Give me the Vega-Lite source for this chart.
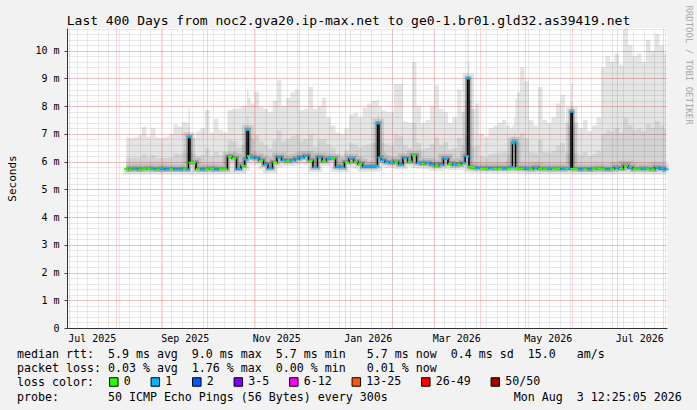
{
  "$schema": "https://vega.github.io/schema/vega-lite/v6.json",
  "width": 600,
  "height": 300,
  "autosize": "none",
  "padding": {"left": 67, "top": 28, "right": 30, "bottom": 82},
  "background": "#f2f2f2",
  "view": {"fill": "white", "stroke": null},
  "config": {
    "axis": {"labelFont": "DejaVu Sans Mono", "titleFont": "DejaVu Sans Mono", "labelColor": "black", "titleColor": "black", "titleFontWeight": "normal"}
  },
  "data": {"values": [
    {"t":"2025-08-08T00:00","m":5.73,"c":6.15,"h":6.9,"l":"0"},
    {"t":"2025-08-11T00:00","m":5.72,"c":6.12,"h":6.85,"l":"0"},
    {"t":"2025-08-14T00:00","m":5.74,"c":6.14,"h":6.88,"l":"1"},
    {"t":"2025-08-17T00:00","m":5.72,"c":6.15,"h":6.95,"l":"0"},
    {"t":"2025-08-20T00:00","m":5.73,"c":6.27,"h":7.26,"l":"0"},
    {"t":"2025-08-23T00:00","m":5.74,"c":6.15,"h":6.9,"l":"0"},
    {"t":"2025-08-26T00:00","m":5.73,"c":6.24,"h":7.2,"l":"1"},
    {"t":"2025-08-29T00:00","m":5.72,"c":6.13,"h":6.88,"l":"0"},
    {"t":"2025-09-01T00:00","m":5.74,"c":6.13,"h":6.85,"l":"1"},
    {"t":"2025-09-04T00:00","m":5.72,"c":6.13,"h":6.9,"l":"1"},
    {"t":"2025-09-07T00:00","m":5.73,"c":6.17,"h":7.0,"l":"0"},
    {"t":"2025-09-10T00:00","m":5.72,"c":6.29,"h":7.35,"l":"1"},
    {"t":"2025-09-13T00:00","m":5.72,"c":6.27,"h":7.28,"l":"1"},
    {"t":"2025-09-16T00:00","m":5.73,"c":6.33,"h":7.44,"l":"0"},
    {"t":"2025-09-18T00:00","m":5.72,"c":6.31,"h":7.4,"l":"1"},
    {"t":"2025-09-19T00:00","m":6.88,"c":7.25,"h":7.94,"l":"1"},
    {"t":"2025-09-20T00:00","m":5.96,"c":6.32,"h":7.0,"l":"0"},
    {"t":"2025-09-22T00:00","m":5.96,"c":6.27,"h":6.85,"l":"0"},
    {"t":"2025-09-25T00:00","m":5.73,"c":6.21,"h":7.1,"l":"0"},
    {"t":"2025-09-28T00:00","m":5.72,"c":6.24,"h":7.2,"l":"1"},
    {"t":"2025-10-01T00:00","m":5.73,"c":6.48,"h":7.86,"l":"0"},
    {"t":"2025-10-04T00:00","m":5.74,"c":6.2,"h":7.05,"l":"0"},
    {"t":"2025-10-07T00:00","m":5.72,"c":6.36,"h":7.55,"l":"1"},
    {"t":"2025-10-10T00:00","m":5.73,"c":6.23,"h":7.15,"l":"0"},
    {"t":"2025-10-13T00:00","m":5.73,"c":6.19,"h":7.05,"l":"0"},
    {"t":"2025-10-16T00:00","m":6.18,"c":6.77,"h":7.86,"l":"0"},
    {"t":"2025-10-19T00:00","m":6.12,"c":6.74,"h":7.9,"l":"0"},
    {"t":"2025-10-22T00:00","m":5.74,"c":6.51,"h":7.93,"l":"1"},
    {"t":"2025-10-25T00:00","m":5.85,"c":6.6,"h":8.0,"l":"0"},
    {"t":"2025-10-27T00:00","m":6.08,"c":6.75,"h":8.0,"l":"1"},
    {"t":"2025-10-28T00:00","m":7.14,"c":7.64,"h":8.58,"l":"1"},
    {"t":"2025-10-29T00:00","m":6.2,"c":6.94,"h":8.3,"l":"0"},
    {"t":"2025-10-31T00:00","m":6.15,"c":6.83,"h":8.1,"l":"1"},
    {"t":"2025-11-03T00:00","m":6.12,"c":6.96,"h":8.52,"l":"1"},
    {"t":"2025-11-06T00:00","m":6.05,"c":6.73,"h":7.98,"l":"0"},
    {"t":"2025-11-09T00:00","m":5.9,"c":6.6,"h":7.9,"l":"1"},
    {"t":"2025-11-12T00:00","m":5.76,"c":6.47,"h":7.8,"l":"1"},
    {"t":"2025-11-15T00:00","m":5.98,"c":6.76,"h":8.2,"l":"0"},
    {"t":"2025-11-18T00:00","m":6.15,"c":7.13,"h":8.94,"l":"1"},
    {"t":"2025-11-21T00:00","m":6.05,"c":6.73,"h":8.0,"l":"1"},
    {"t":"2025-11-24T00:00","m":6.02,"c":6.82,"h":8.3,"l":"0"},
    {"t":"2025-11-27T00:00","m":6.05,"c":6.91,"h":8.5,"l":"1"},
    {"t":"2025-11-30T00:00","m":6.1,"c":6.98,"h":8.6,"l":"1"},
    {"t":"2025-12-03T00:00","m":6.15,"c":6.75,"h":7.85,"l":"1"},
    {"t":"2025-12-06T00:00","m":6.2,"c":6.8,"h":7.9,"l":"1"},
    {"t":"2025-12-09T00:00","m":6.05,"c":6.98,"h":8.7,"l":"0"},
    {"t":"2025-12-12T00:00","m":5.8,"c":6.54,"h":7.9,"l":"1"},
    {"t":"2025-12-15T00:00","m":6.15,"c":6.8,"h":8.0,"l":"1"},
    {"t":"2025-12-18T00:00","m":6.02,"c":6.82,"h":8.3,"l":"0"},
    {"t":"2025-12-21T00:00","m":6.1,"c":6.63,"h":7.6,"l":"1"},
    {"t":"2025-12-24T00:00","m":6.1,"c":6.52,"h":7.3,"l":"0"},
    {"t":"2025-12-27T00:00","m":5.82,"c":6.25,"h":7.05,"l":"1"},
    {"t":"2025-12-30T00:00","m":5.8,"c":6.22,"h":7.0,"l":"1"},
    {"t":"2026-01-02T00:00","m":5.98,"c":6.41,"h":7.2,"l":"0"},
    {"t":"2026-01-05T00:00","m":6.1,"c":6.66,"h":7.7,"l":"1"},
    {"t":"2026-01-08T00:00","m":6.0,"c":6.61,"h":7.75,"l":"0"},
    {"t":"2026-01-11T00:00","m":5.92,"c":6.51,"h":7.6,"l":"0"},
    {"t":"2026-01-14T00:00","m":5.82,"c":6.57,"h":7.95,"l":"1"},
    {"t":"2026-01-17T00:00","m":5.82,"c":6.62,"h":8.1,"l":"1"},
    {"t":"2026-01-20T00:00","m":5.82,"c":6.65,"h":8.2,"l":"1"},
    {"t":"2026-01-22T00:00","m":5.85,"c":6.67,"h":8.2,"l":"1"},
    {"t":"2026-01-23T00:00","m":7.38,"c":7.68,"h":8.25,"l":"1"},
    {"t":"2026-01-24T00:00","m":6.15,"c":6.8,"h":8.0,"l":"1"},
    {"t":"2026-01-26T00:00","m":6.05,"c":6.68,"h":7.85,"l":"1"},
    {"t":"2026-01-29T00:00","m":5.98,"c":6.62,"h":7.8,"l":"1"},
    {"t":"2026-02-01T00:00","m":5.95,"c":6.6,"h":7.8,"l":"1"},
    {"t":"2026-02-04T00:00","m":6.0,"c":6.98,"h":8.8,"l":"0"},
    {"t":"2026-02-07T00:00","m":5.9,"c":6.92,"h":8.8,"l":"1"},
    {"t":"2026-02-10T00:00","m":6.12,"c":6.59,"h":7.45,"l":"1"},
    {"t":"2026-02-13T00:00","m":6.0,"c":6.49,"h":7.4,"l":"0"},
    {"t":"2026-02-16T00:00","m":6.22,"c":7.4,"h":9.6,"l":"0"},
    {"t":"2026-02-19T00:00","m":5.95,"c":6.67,"h":8.0,"l":"1"},
    {"t":"2026-02-22T00:00","m":5.92,"c":6.44,"h":7.4,"l":"0"},
    {"t":"2026-02-25T00:00","m":5.95,"c":6.49,"h":7.5,"l":"1"},
    {"t":"2026-02-28T00:00","m":5.9,"c":6.64,"h":8.0,"l":"1"},
    {"t":"2026-03-03T00:00","m":5.85,"c":6.87,"h":8.75,"l":"0"},
    {"t":"2026-03-06T00:00","m":5.9,"c":6.6,"h":7.9,"l":"1"},
    {"t":"2026-03-09T00:00","m":6.1,"c":6.7,"h":7.8,"l":"1"},
    {"t":"2026-03-12T00:00","m":5.92,"c":6.44,"h":7.4,"l":"0"},
    {"t":"2026-03-15T00:00","m":5.88,"c":6.48,"h":7.6,"l":"1"},
    {"t":"2026-03-18T00:00","m":5.9,"c":6.85,"h":8.6,"l":"0"},
    {"t":"2026-03-21T00:00","m":5.95,"c":6.6,"h":7.8,"l":"1"},
    {"t":"2026-03-23T00:00","m":6.2,"c":6.9,"h":8.2,"l":"1"},
    {"t":"2026-03-24T00:00","m":9.0,"c":9.63,"h":10.8,"l":"1"},
    {"t":"2026-03-25T00:00","m":5.82,"c":6.65,"h":8.2,"l":"0"},
    {"t":"2026-03-27T00:00","m":5.78,"c":6.52,"h":7.9,"l":"0"},
    {"t":"2026-03-30T00:00","m":5.76,"c":6.58,"h":8.1,"l":"1"},
    {"t":"2026-04-02T00:00","m":5.76,"c":6.19,"h":7.0,"l":"0"},
    {"t":"2026-04-05T00:00","m":5.75,"c":6.15,"h":6.9,"l":"0"},
    {"t":"2026-04-08T00:00","m":5.76,"c":6.26,"h":7.2,"l":"1"},
    {"t":"2026-04-11T00:00","m":5.75,"c":6.29,"h":7.3,"l":"0"},
    {"t":"2026-04-14T00:00","m":5.76,"c":6.33,"h":7.4,"l":"0"},
    {"t":"2026-04-17T00:00","m":5.75,"c":6.36,"h":7.5,"l":"1"},
    {"t":"2026-04-20T00:00","m":5.76,"c":6.3,"h":7.3,"l":"0"},
    {"t":"2026-04-22T00:00","m":5.8,"c":6.29,"h":7.2,"l":"1"},
    {"t":"2026-04-23T00:00","m":6.66,"c":6.88,"h":7.3,"l":"1"},
    {"t":"2026-04-24T00:00","m":6.72,"c":7.03,"h":7.6,"l":"1"},
    {"t":"2026-04-25T00:00","m":5.76,"c":6.65,"h":8.3,"l":"0"},
    {"t":"2026-04-26T00:00","m":5.76,"c":6.72,"h":8.5,"l":"0"},
    {"t":"2026-04-29T00:00","m":5.75,"c":7.03,"h":9.4,"l":"0"},
    {"t":"2026-05-02T00:00","m":5.74,"c":6.85,"h":8.9,"l":"1"},
    {"t":"2026-05-05T00:00","m":5.73,"c":6.35,"h":7.5,"l":"0"},
    {"t":"2026-05-08T00:00","m":5.78,"c":6.31,"h":7.3,"l":"1"},
    {"t":"2026-05-11T00:00","m":5.74,"c":6.78,"h":8.7,"l":"0"},
    {"t":"2026-05-14T00:00","m":5.73,"c":6.35,"h":7.5,"l":"0"},
    {"t":"2026-05-17T00:00","m":5.74,"c":6.32,"h":7.4,"l":"1"},
    {"t":"2026-05-20T00:00","m":5.73,"c":6.38,"h":7.6,"l":"0"},
    {"t":"2026-05-23T00:00","m":5.74,"c":6.57,"h":8.1,"l":"0"},
    {"t":"2026-05-26T00:00","m":5.73,"c":6.66,"h":8.4,"l":"1"},
    {"t":"2026-05-29T00:00","m":5.74,"c":6.32,"h":7.4,"l":"0"},
    {"t":"2026-05-31T00:00","m":5.74,"c":6.29,"h":7.3,"l":"1"},
    {"t":"2026-06-01T00:00","m":7.8,"c":8.15,"h":8.8,"l":"1"},
    {"t":"2026-06-02T00:00","m":5.74,"c":6.29,"h":7.3,"l":"0"},
    {"t":"2026-06-04T00:00","m":5.73,"c":6.31,"h":7.4,"l":"0"},
    {"t":"2026-06-07T00:00","m":5.72,"c":6.24,"h":7.2,"l":"1"},
    {"t":"2026-06-10T00:00","m":5.73,"c":6.35,"h":7.5,"l":"0"},
    {"t":"2026-06-13T00:00","m":5.72,"c":6.2,"h":7.1,"l":"1"},
    {"t":"2026-06-16T00:00","m":5.73,"c":6.28,"h":7.3,"l":"0"},
    {"t":"2026-06-19T00:00","m":5.74,"c":6.39,"h":7.6,"l":"0"},
    {"t":"2026-06-22T00:00","m":5.73,"c":7.01,"h":9.4,"l":"0"},
    {"t":"2026-06-25T00:00","m":5.72,"c":7.15,"h":9.8,"l":"1"},
    {"t":"2026-06-28T00:00","m":5.73,"c":7.08,"h":9.6,"l":"0"},
    {"t":"2026-07-01T00:00","m":5.78,"c":7.22,"h":9.9,"l":"1"},
    {"t":"2026-07-04T00:00","m":5.74,"c":7.06,"h":9.5,"l":"0"},
    {"t":"2026-07-07T00:00","m":5.85,"c":7.58,"h":10.8,"l":"0"},
    {"t":"2026-07-10T00:00","m":5.78,"c":7.33,"h":10.2,"l":"1"},
    {"t":"2026-07-13T00:00","m":5.73,"c":7.15,"h":9.8,"l":"0"},
    {"t":"2026-07-16T00:00","m":5.73,"c":7.19,"h":9.9,"l":"0"},
    {"t":"2026-07-19T00:00","m":5.74,"c":7.09,"h":9.6,"l":"1"},
    {"t":"2026-07-22T00:00","m":5.73,"c":7.36,"h":10.4,"l":"0"},
    {"t":"2026-07-25T00:00","m":5.72,"c":7.22,"h":10.0,"l":"0"},
    {"t":"2026-07-28T00:00","m":5.78,"c":7.47,"h":10.6,"l":"1"},
    {"t":"2026-07-31T00:00","m":5.74,"c":7.3,"h":10.2,"l":"1"},
    {"t":"2026-08-03T00:00","m":5.72,"c":7.18,"h":9.9,"l":"1"}
  ]},
  "encoding": {
    "x": {"field": "t", "type": "temporal", "axis": null,
          "scale": {"domain": [{"year": 2025, "month": 6, "date": 29, "hours": 12, "minutes": 25, "seconds": 5}, {"year": 2026, "month": 8, "date": 3, "hours": 12, "minutes": 25, "seconds": 5}]}},
    "y": {"field": "m", "type": "quantitative", "axis": null, "scale": {"domain": [0, 10.82], "nice": false}}
  },
  "layer": [
    {
      "mark": {"type": "area", "interpolate": "step", "color": "#000000", "opacity": 0.1},
      "encoding": {
        "x": {"field": "t", "type": "temporal",
              "scale": {"domain": [{"year": 2025, "month": 6, "date": 29, "hours": 12, "minutes": 25, "seconds": 5}, {"year": 2026, "month": 8, "date": 3, "hours": 12, "minutes": 25, "seconds": 5}]},
              "axis": {"orient": "top", "grid": true, "gridColor": "#d0d0d0", "gridDash": [1, 1], "tickCount": {"interval": "week", "step": 1},
                       "labels": false, "ticks": false, "domain": false,
                       "title": "Last 400 Days from noc2.gva20.ip-max.net to ge0-1.br01.gld32.as39419.net",
                       "titleFontSize": 13, "titleX": 281, "titleY": -4, "titleAlign": "center", "titleBaseline": "alphabetic", "titleAngle": 0, "titleLimit": 2000}},
        "y": {"field": "m", "type": "quantitative", "scale": {"domain": [0, 10.82], "nice": false},
              "axis": {"orient": "left", "grid": true, "gridColor": "#d0d0d0", "gridDash": [1, 1],
                       "values": [0.2,0.4,0.6,0.8,1,1.2,1.4,1.6,1.8,2,2.2,2.4,2.6,2.8,3,3.2,3.4,3.6,3.8,4,4.2,4.4,4.6,4.8,5,5.2,5.4,5.6,5.8,6,6.2,6.4,6.6,6.8,7,7.2,7.4,7.6,7.8,8,8.2,8.4,8.6,8.8,9,9.2,9.4,9.6,9.8,10,10.2,10.4,10.6,10.8],
                       "labels": false, "ticks": false, "domain": false, "title": null}},
        "y2": {"field": "h"}
      }
    },
    {
      "mark": {"type": "area", "interpolate": "step", "color": "#000000", "opacity": 0.07},
      "encoding": {
        "x": {"field": "t", "type": "temporal",
              "scale": {"domain": [{"year": 2025, "month": 6, "date": 29, "hours": 12, "minutes": 25, "seconds": 5}, {"year": 2026, "month": 8, "date": 3, "hours": 12, "minutes": 25, "seconds": 5}]},
              "axis": {"orient": "bottom", "grid": true, "gridColor": "#ff0000", "gridOpacity": 0.35, "gridDash": [1, 1],
                       "values": [{"year":2025,"month":7,"date":1},{"year":2025,"month":8,"date":1},{"year":2025,"month":9,"date":1},{"year":2025,"month":10,"date":1},{"year":2025,"month":11,"date":1},{"year":2025,"month":12,"date":1},{"year":2026,"month":1,"date":1},{"year":2026,"month":2,"date":1},{"year":2026,"month":3,"date":1},{"year":2026,"month":4,"date":1},{"year":2026,"month":5,"date":1},{"year":2026,"month":6,"date":1},{"year":2026,"month":7,"date":1},{"year":2026,"month":8,"date":1}],
                       "labels": false, "ticks": false, "domain": false, "title": null}},
        "y": {"field": "m", "type": "quantitative", "scale": {"domain": [0, 10.82], "nice": false},
              "axis": {"orient": "left", "grid": true, "gridColor": "#ff0000", "gridOpacity": 0.35, "gridDash": [1, 1],
                       "values": [0,1,2,3,4,5,6,7,8,9,10],
                       "labelExpr": "datum.value == 0 ? '0' : datum.value + ' m'",
                       "labelFontSize": 10, "labelPadding": 5, "ticks": true, "tickSize": 3, "tickColor": "#444444",
                       "domain": true, "domainColor": "#333333",
                       "title": "Seconds", "titleFontSize": 11, "titleX": -55, "titleAngle": -90, "titleBaseline": "middle", "titleAlign": "center"}},
        "y2": {"field": "c"}
      }
    },
    {
      "mark": {"type": "line", "interpolate": "step", "color": "#000000", "opacity": 0.1, "strokeWidth": 10, "strokeJoin": "miter", "strokeCap": "butt"},
      "encoding": {
        "x": {"field": "t", "type": "temporal",
              "scale": {"domain": [{"year": 2025, "month": 6, "date": 29, "hours": 12, "minutes": 25, "seconds": 5}, {"year": 2026, "month": 8, "date": 3, "hours": 12, "minutes": 25, "seconds": 5}]},
              "axis": {"orient": "bottom", "grid": false, "ticks": false, "domain": true, "domainColor": "#333333",
                       "values": [{"year":2025,"month":7,"date":16},{"year":2025,"month":9,"date":16},{"year":2025,"month":11,"date":16},{"year":2026,"month":1,"date":16},{"year":2026,"month":3,"date":16},{"year":2026,"month":5,"date":16},{"year":2026,"month":7,"date":16}],
                       "format": "%b %Y", "labelFontSize": 10, "labelPadding": 5, "labelBaseline": "top", "labelFlush": false, "labelOverlap": false,
                       "title": [
                         "median rtt:\u00a0\u00a05.9 ms avg\u00a0\u00a09.0 ms max\u00a0\u00a05.7 ms min\u00a0\u00a0\u00a05.7 ms now\u00a0\u00a00.4 ms sd\u00a0\u00a015.0\u00a0\u00a0\u00a0am/s",
                         "packet loss: 0.03 % avg\u00a0\u00a01.76 % max\u00a0\u00a00.00 % min\u00a0\u00a0\u00a00.01 % now",
                         "loss color:",
                         "probe:\u00a0\u00a0\u00a0\u00a0\u00a0\u00a0\u00a050 ICMP Echo Pings (56 Bytes) every 300s\u00a0\u00a0\u00a0\u00a0\u00a0\u00a0\u00a0\u00a0\u00a0\u00a0\u00a0\u00a0\u00a0\u00a0\u00a0\u00a0\u00a0\u00a0Mon Aug\u00a0\u00a03 12:25:05 2026"
                       ],
                       "titleFontSize": 11.63, "titleX": -50.6, "titleY": 29.3, "titleAlign": "left", "titleAnchor": "start", "titleBaseline": "alphabetic", "titleLineHeight": 14.3, "titleLimit": 2000}},
        "y": {"field": "m", "type": "quantitative", "scale": {"domain": [0, 10.82], "nice": false},
              "axis": {"orient": "right", "grid": false, "labels": false, "ticks": false, "domain": false,
                       "title": "RRDTOOL / TOBI OETIKER", "titleFontSize": 9, "titleColor": "#a8a8a8", "titleAngle": 90,
                       "titleX": 21, "titleY": 36.5, "titleAlign": "center", "titleBaseline": "middle", "titleLimit": 2000}}
      }
    },
    {
      "mark": {"type": "line", "interpolate": "step", "color": "#000000", "opacity": 0.2, "strokeWidth": 5, "strokeJoin": "miter", "strokeCap": "butt"}
    },
    {
      "mark": {"type": "line", "interpolate": "step", "color": "#1a1a1a", "opacity": 0.7, "strokeWidth": 1.6, "strokeJoin": "miter", "strokeCap": "butt"}
    },
    {
      "mark": {"type": "line", "interpolate": "step", "color": "#000000", "strokeWidth": 1, "strokeJoin": "miter"}
    },
    {
      "mark": {"type": "tick", "orient": "horizontal", "size": 4.5, "thickness": 2, "opacity": 1},
      "encoding": {
        "color": {"field": "l", "type": "nominal",
                  "scale": {"domain": ["0", "1", "2", "3-5", "6-12", "13-25", "26-49", "50/50"],
                            "range": ["#26ff00", "#00b8ff", "#0059ff", "#7e00ff", "#ff00ff", "#ff5500", "#ff0000", "#a10000"]},
                  "legend": {"orient": "none", "legendX": 41, "legendY": 347.7, "direction": "horizontal", "title": null,
                             "symbolType": "square", "symbolSize": 72, "symbolStrokeColor": "black", "symbolStrokeWidth": 1, "symbolOpacity": 1,
                             "labelFont": "DejaVu Sans Mono", "labelFontSize": 11.63, "labelColor": "black", "labelOffset": 4,
                             "columnPadding": 17.5, "padding": 0, "offset": 0, "labelLimit": 0,
                             "encode": {"symbols": {"update": {"stroke": {"value": "black"}, "strokeWidth": {"value": 1}, "opacity": {"value": 1}}}}}}
      }
    },
    {
      "data": {"values": [{"a": 1}]},
      "mark": {"type": "point", "shape": "triangle-right", "filled": true, "size": 30, "color": "#a02020", "opacity": 1},
      "encoding": {
        "x": {"datum": {"year": 2026, "month": 8, "date": 5, "hours": 12}, "type": "temporal",
              "scale": {"domain": [{"year": 2025, "month": 6, "date": 29, "hours": 12, "minutes": 25, "seconds": 5}, {"year": 2026, "month": 8, "date": 3, "hours": 12, "minutes": 25, "seconds": 5}]}, "axis": null},
        "y": {"datum": 0, "type": "quantitative", "scale": {"domain": [0, 10.82], "nice": false}, "axis": null}
      }
    },
    {
      "data": {"values": [{"a": 1}]},
      "mark": {"type": "point", "shape": "triangle-up", "filled": true, "size": 30, "color": "#a02020", "opacity": 1},
      "encoding": {
        "x": {"datum": {"year": 2025, "month": 6, "date": 29, "hours": 12, "minutes": 25, "seconds": 5}, "type": "temporal",
              "scale": {"domain": [{"year": 2025, "month": 6, "date": 29, "hours": 12, "minutes": 25, "seconds": 5}, {"year": 2026, "month": 8, "date": 3, "hours": 12, "minutes": 25, "seconds": 5}]}, "axis": null},
        "y": {"datum": 10.96, "type": "quantitative", "scale": {"domain": [0, 10.82], "nice": false}, "axis": null}
      }
    }
  ],
  "resolve": {"axis": {"x": "independent", "y": "independent"}}
}
